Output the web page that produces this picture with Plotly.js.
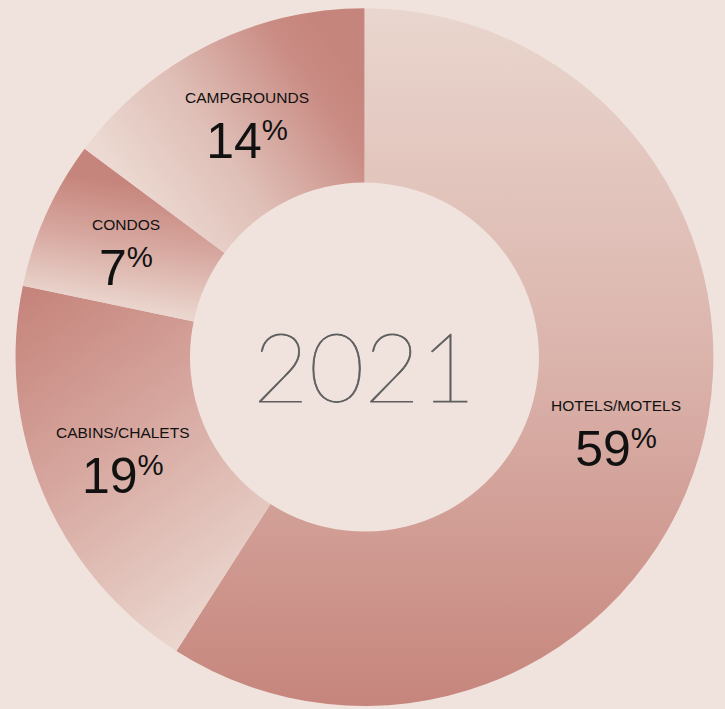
<!DOCTYPE html>
<html>
<head>
<meta charset="utf-8">
<script src="https://cdn.plot.ly/plotly-3.0.1.min.js"></script>
<style>
  html, body { margin: 0; padding: 0; background: #f0e3dd; }
  #chart { width: 725px; height: 709px; }
</style>
</head>
<body>
<div id="chart"></div>
<script>
const categories = ["HOTELS/MOTELS", "CABINS/CHALETS", "CONDOS", "CAMPGROUNDS"];
// percentages printed on the chart
const labelPct = [59, 19, 7, 14];
// arc sizes (in % of the ring) as drawn in the picture
const arcSize = [59.0, 19.2, 6.9, 14.8];
const centerLabel = "2021";

const dark = "#c6857c";
const light = "#ead6ce";

// gradient definitions per slice (bounding-box fractions)
const gradients = [
  { x1: 0, y1: 0, x2: 0, y2: 1, stops: [[0, "#e9d6ce"], [0.5, "#dbb4ac"], [1, "#c6857c"]] },
  { x1: 0.1, y1: 0, x2: 0.6, y2: 1, stops: [[0, "#c6857c"], [0.45, "#d6a69e"], [1, "#ead6ce"]] },
  { x1: 0.5, y1: 0.2, x2: 0.38, y2: 0.9, stops: [[0, "#c6857c"], [0.5, "#d8aaa2"], [1, "#ead6ce"]] },
  { x1: 0.95, y1: 0.25, x2: 0.15, y2: 0.75, stops: [[0, "#c6857c"], [0.15, "#c98b83"], [0.6, "#dfbfb7"], [1, "#ecdad2"]] }
];

const W = 725, H = 709;
const dom = { x: [0.0214, 0.984], y: [0.004, 0.9887] };
const hole = 0.5;

const trace = {
  type: "pie",
  labels: categories,
  values: arcSize,
  customdata: labelPct,
  hole: hole,
  sort: false,
  direction: "clockwise",
  rotation: 0,
  marker: { colors: [light, dark, dark, light], line: { width: 0 } },
  textinfo: "none",
  hovertemplate: "%{label}: %{customdata}%<extra></extra>",
  showlegend: false,
  domain: dom
};

// label anchors: middle of each ring segment (mid-angle, mid-radius)
const cxP = (dom.x[0] + dom.x[1]) / 2, cyP = (dom.y[0] + dom.y[1]) / 2;
const rPx = Math.min((dom.x[1] - dom.x[0]) * W, (dom.y[1] - dom.y[0]) * H) / 2;
const rMid = rPx * (1 + hole) / 2;
const total = arcSize.reduce((a, b) => a + b, 0);
let cum = 0;
const sliceLabels = categories.map((c, i) => {
  const mid = (cum + arcSize[i] / 2) / total * 2 * Math.PI;
  cum += arcSize[i];
  return {
    text: "<span style='font-size:15.5px'>" + c + "</span><br><span style='font-size:50px'>" + labelPct[i] + "</span><sup>%</sup>",
    x: cxP + rMid * Math.sin(mid) / W,
    y: cyP + rMid * Math.cos(mid) / H,
    xref: "paper", yref: "paper", xanchor: "center", yanchor: "middle",
    yshift: -6,
    showarrow: false,
    font: { family: "Liberation Sans, Arial, sans-serif", size: 42, color: "#111" }
  };
});

const layout = {
  width: W,
  height: H,
  margin: { l: 0, r: 0, t: 0, b: 0 },
  paper_bgcolor: "#f0e3dd",
  plot_bgcolor: "#f0e3dd",
  showlegend: false,
  annotations: sliceLabels.concat([{
    text: centerLabel,
    x: 0.5027, y: 0.486, xref: "paper", yref: "paper",
    showarrow: false,
    font: { family: "Lato, sans-serif", size: 96, color: "#5e5e5e", weight: 200 }
  }])
};

Plotly.newPlot("chart", [trace], layout, { displayModeBar: false, staticPlot: true }).then(gd => {
  const svg = gd.querySelector("svg.main-svg");
  const ns = "http://www.w3.org/2000/svg";
  let defs = svg.querySelector("defs");
  if (!defs) { defs = document.createElementNS(ns, "defs"); svg.insertBefore(defs, svg.firstChild); }
  gradients.forEach((g, i) => {
    const lg = document.createElementNS(ns, "linearGradient");
    lg.setAttribute("id", "sliceGrad" + i);
    ["x1", "y1", "x2", "y2"].forEach(k => lg.setAttribute(k, g[k]));
    g.stops.forEach(s => {
      const st = document.createElementNS(ns, "stop");
      st.setAttribute("offset", s[0]);
      st.setAttribute("stop-color", s[1]);
      lg.appendChild(st);
    });
    defs.appendChild(lg);
  });
  const paths = gd.querySelectorAll("g.slice path.surface");
  paths.forEach((p, i) => { p.style.fill = "url(#sliceGrad" + i + ")"; });
  // slightly heavier strokes for the thin centre year
  const anns = gd.querySelectorAll("g.annotation-text-g text");
  const yearText = anns[anns.length - 1];
  if (yearText) {
    yearText.style.stroke = "#5e5e5e";
    yearText.style.strokeWidth = "0.8px";
  }
});
</script>
</body>
</html>
